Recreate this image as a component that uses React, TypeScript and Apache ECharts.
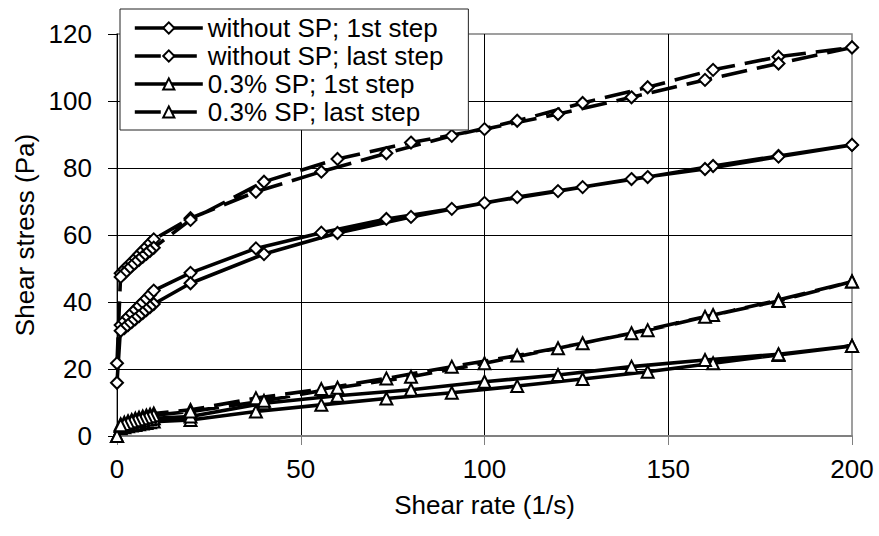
import React, { useEffect, useRef } from "react";
import * as echarts from "echarts";

// Shear-rate sequences of the two ramps (up ramp, then down ramp)
const RAMP_UP_X = [0, 1, 2, 3, 4, 5, 6, 7, 8, 9, 10, 20, 37.8, 55.6, 73.3, 91.1, 108.9, 126.7, 144.4, 162.2, 180, 200];
const RAMP_DOWN_X = [200, 180, 160, 140, 120, 100, 80, 60, 40, 20, 10, 9, 8, 7, 6, 5, 4, 3, 2, 1];

const SERIES_NAMES = [
  "without SP; 1st step",
  "without SP; last step",
  "0.3% SP; 1st step",
  "0.3% SP; last step",
];

// Shear stress (Pa)
const WITHOUT_SP_FIRST_UP = [15.9, 33.1, 34.3, 35.5, 36.6, 37.7, 38.8, 39.9, 41.0, 42.2, 43.4, 48.7, 56.0, 60.7, 64.8, 67.8, 71.3, 74.3, 77.3, 80.6, 83.6, 86.9];
const WITHOUT_SP_FIRST_DOWN = [86.9, 83.4, 79.7, 76.7, 73.1, 69.6, 65.4, 60.6, 54.3, 45.6, 39.4, 38.5, 37.6, 36.7, 35.8, 34.9, 34.0, 33.1, 32.2, 31.4];

const WITHOUT_SP_LAST_UP = [21.7, 48.6, 49.7, 50.8, 51.9, 53.0, 54.2, 55.3, 56.4, 57.6, 58.7, 65.0, 72.9, 78.9, 84.4, 89.6, 94.1, 99.4, 104.1, 109.3, 113.2, 116.0];
const WITHOUT_SP_LAST_DOWN = [116.0, 111.2, 106.3, 101.1, 96.1, 91.6, 87.6, 82.7, 75.9, 64.5, 56.2, 55.3, 54.4, 53.5, 52.6, 51.7, 50.7, 49.7, 48.6, 47.5];

const SP_FIRST_UP = [0, 2.3, 2.6, 2.9, 3.1, 3.3, 3.5, 3.7, 3.9, 4.1, 4.3, 4.8, 7.3, 9.3, 11.2, 12.9, 14.9, 17.0, 19.2, 21.7, 24.2, 26.9];
const SP_FIRST_DOWN = [26.9, 24.4, 22.7, 20.7, 18.2, 16.2, 13.8, 12.0, 9.8, 5.8, 5.3, 5.1, 4.9, 4.7, 4.5, 4.3, 4.0, 3.7, 3.4, 3.0];

const SP_LAST_UP = [0, 3.5, 4.0, 4.4, 4.8, 5.2, 5.5, 5.8, 6.1, 6.4, 6.7, 7.8, 11.3, 14.0, 17.2, 20.7, 24.0, 27.7, 31.6, 36.1, 40.6, 46.1];
const SP_LAST_DOWN = [46.1, 40.3, 35.6, 30.7, 26.2, 21.7, 17.7, 14.4, 10.5, 7.3, 6.2, 5.9, 5.6, 5.3, 5.0, 4.7, 4.4, 4.0, 3.6, 3.2];

const X_TITLE = "Shear rate (1/s)";
const Y_TITLE = "Shear stress (Pa)";

const FONT = "'Liberation Sans', Arial, sans-serif";

function loop(up: number[], down: number[]) {
  return [
    ...RAMP_UP_X.map((x, i) => [x, up[i]]),
    ...RAMP_DOWN_X.map((x, i) => [x, down[i]]),
  ];
}

function makeSeries(name: string, data: number[][], symbol: string, dashed: boolean) {
  return {
    name,
    type: "line",
    data,
    symbol,
    symbolSize: 12,
    showSymbol: true,
    showAllSymbol: true,
    clip: false,
    z: 2,
    lineStyle: {
      color: "#000",
      width: 3.6,
      type: dashed ? [26, 10] : "solid",
      cap: "butt",
    },
    itemStyle: { color: "#fff", borderColor: "#000", borderWidth: 2 },
    emphasis: { disabled: true },
  };
}

export default function App() {
  const ref = useRef<HTMLDivElement>(null);

  useEffect(() => {
    if (!ref.current) return;
    const chart = echarts.init(ref.current, undefined, { renderer: "svg" });
    chart.setOption({
      animation: false,
      backgroundColor: "#fff",
      textStyle: { fontFamily: FONT },
      grid: {
        left: 117,
        right: 27,
        top: 34,
        bottom: 100,
        show: true,
        borderColor: "#808080",
        borderWidth: 1.5,
        containLabel: false,
      },
      legend: {
        orient: "vertical",
        left: 120,
        top: 9,
        itemWidth: 68,
        itemHeight: 14,
        itemGap: 2,
        padding: [6, 25, 5, 13],
        backgroundColor: "#fff",
        borderColor: "#222",
        borderWidth: 1,
        lineStyle: { width: 3.6 },
        textStyle: { fontSize: 26, color: "#000", fontFamily: FONT },
        data: SERIES_NAMES,
        z: 10,
      },
      xAxis: {
        type: "value",
        min: 0,
        max: 200,
        interval: 50,
        name: X_TITLE,
        nameLocation: "middle",
        nameGap: 56,
        nameTextStyle: { fontSize: 26, color: "#000", fontFamily: FONT },
        axisLine: { show: true, lineStyle: { color: "#808080", width: 2 } },
        axisTick: { show: true, inside: false, length: 9, lineStyle: { color: "#808080", width: 1 } },
        axisLabel: { fontSize: 26, color: "#000", margin: 20, fontFamily: FONT },
        splitLine: { show: true, showMinLine: false, showMaxLine: false, lineStyle: { color: "#000", width: 1 } },
      },
      yAxis: {
        type: "value",
        min: 0,
        max: 120,
        interval: 20,
        name: Y_TITLE,
        nameLocation: "middle",
        nameGap: 72,
        nameRotate: 90,
        nameTextStyle: { fontSize: 26, color: "#000", fontFamily: FONT },
        axisLine: { show: true, lineStyle: { color: "#000", width: 1 } },
        axisTick: { show: true, inside: false, length: 9, lineStyle: { color: "#000", width: 1 } },
        axisLabel: { fontSize: 26, color: "#000", margin: 25, fontFamily: FONT },
        splitLine: { show: true, showMinLine: false, showMaxLine: false, lineStyle: { color: "#000", width: 1 } },
      },
      series: [
        makeSeries(SERIES_NAMES[0], loop(WITHOUT_SP_FIRST_UP, WITHOUT_SP_FIRST_DOWN), "diamond", false),
        makeSeries(SERIES_NAMES[1], loop(WITHOUT_SP_LAST_UP, WITHOUT_SP_LAST_DOWN), "diamond", true),
        makeSeries(SERIES_NAMES[2], loop(SP_FIRST_UP, SP_FIRST_DOWN), "triangle", false),
        makeSeries(SERIES_NAMES[3], loop(SP_LAST_UP, SP_LAST_DOWN), "triangle", true),
      ],
    });
    return () => chart.dispose();
  }, []);

  return (
    <div
      ref={ref}
      style={{ position: "fixed", left: 0, top: 0, width: 879, height: 536, background: "#fff" }}
    />
  );
}
